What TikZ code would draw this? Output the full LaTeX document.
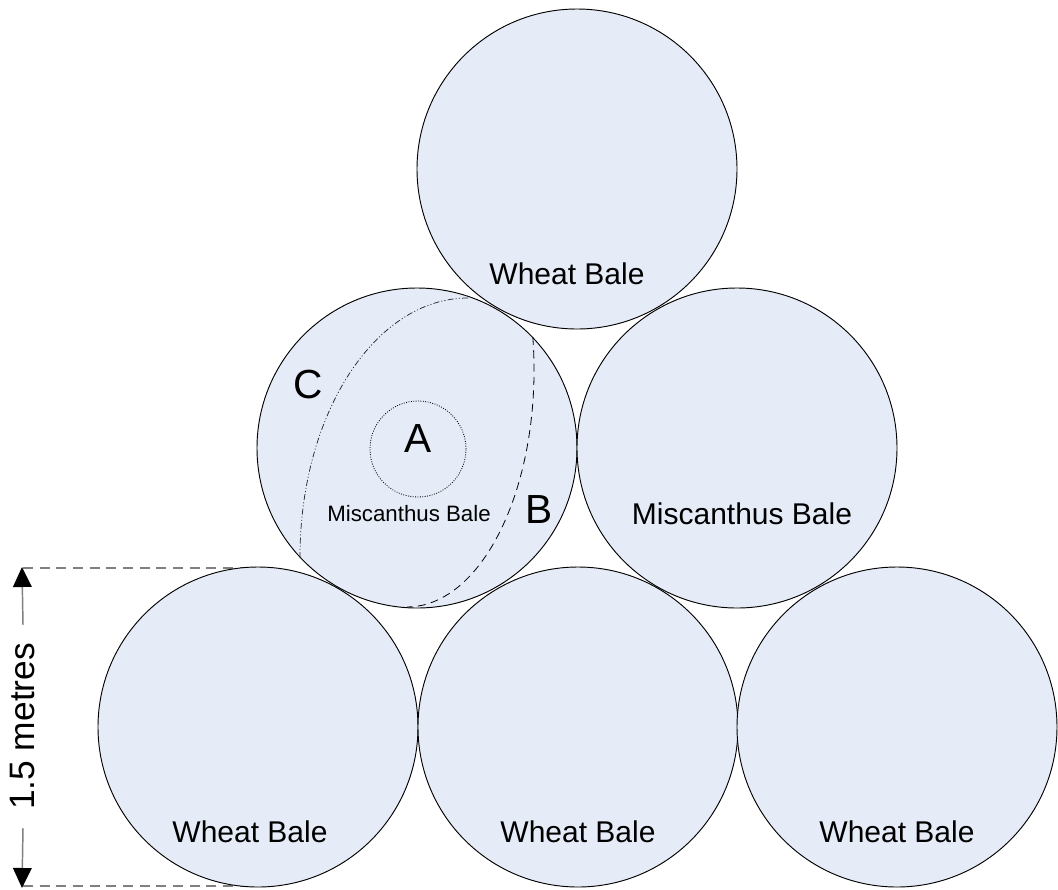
\documentclass[tikz,border=0pt]{standalone}
\usepackage{fontspec}
\setmainfont{Liberation Sans}
\usetikzlibrary{arrows.meta}
\definecolor{balefill}{RGB}{230,236,247}
\definecolor{dimgray}{RGB}{128,128,128}
\tikzset{
  bale/.style={circle, draw=black, line width=0.7pt, fill=balefill, minimum size=240pt, inner sep=0pt},
  bigtxt/.style={anchor=base, inner sep=0pt, font=\fontsize{22.5}{27}\selectfont},
  smalltxt/.style={anchor=base, inner sep=0pt, font=\fontsize{16.7}{20}\selectfont},
  lettertxt/.style={anchor=base, inner sep=0pt, font=\fontsize{30.5}{36}\selectfont},
  dimline/.style={draw=dimgray, line width=1.1pt, dash pattern=on 7.5pt off 5pt},
  dimarrow/.style={draw=dimgray, line width=1.1pt, -{Triangle[length=15pt,width=14pt,color=black]}},
  zoneA/.style={draw=black, line width=0.6pt, dash pattern=on 0.7pt off 1.1pt},
  zoneB/.style={draw=black, line width=0.6pt, dash pattern=on 6pt off 4pt},
  zoneC/.style={draw=black!85, line width=0.55pt, dash pattern=on 4.5pt off 1.6pt on 0.8pt off 1.6pt on 0.8pt off 1.6pt}
}
\begin{document}
\begin{tikzpicture}[x=0.75pt, y=-0.75pt]
\useasboundingbox (0,0) rectangle (1058,890);
% dimension guide lines
\coordinate (dimL1) at (23,568);
\coordinate (dimR1) at (258,568);
\coordinate (dimL2) at (23,886);
\coordinate (dimR2) at (258,886);
\draw[dimline] (dimL1) -- (dimR1);
\draw[dimline] (dimL2) -- (dimR2);
% bales
\node[bale] (w1) at (258,727) {};
\node[bale] (w2) at (578,727) {};
\node[bale] (w3) at (897,727) {};
\node[bale] (m1) at (417,448) {};
\node[bale] (m2) at (737,448) {};
\node[bale] (w4) at (577,169) {};
% labels
\node[bigtxt] (lw1) at (250,842) {Wheat Bale};
\node[bigtxt] (lw2) at (578,842) {Wheat Bale};
\node[bigtxt] (lw3) at (897,842) {Wheat Bale};
\node[bigtxt] (lw4) at (567,284) {Wheat Bale};
\node[bigtxt] (lm2) at (742,524) {Miscanthus Bale};
\node[smalltxt] (lm1) at (409,521) {Miscanthus Bale};
% zones inside the left miscanthus bale
\node[circle, zoneA, minimum size=72pt, inner sep=0pt] (zA) at (418,449) {};
\node[lettertxt] (lA) at (418,452) {A};
\node[lettertxt] (lB) at (539.5,523) {B};
\node[lettertxt] (lC) at (308,398) {C};
\draw[zoneC] (468,298) arc[start angle=-90, end angle=-180, x radius=168, y radius=259];
\draw[zoneB] (532.8,337) arc[start angle=-8, end angle=90, x radius=127, y radius=237];
% dimension
\node[rotate=90, inner xsep=13.5pt, inner ysep=0pt, font=\fontsize{26.5}{32}\selectfont] (dimtxt) at (23,726.5) {1.5 metres};
\coordinate (dimtop) at (22,567);
\coordinate (dimbot) at (22,888);
\draw[dimarrow] (dimtxt.east) -- (dimtop);
\draw[dimarrow] (dimtxt.west) -- (dimbot);
\end{tikzpicture}
\end{document}
